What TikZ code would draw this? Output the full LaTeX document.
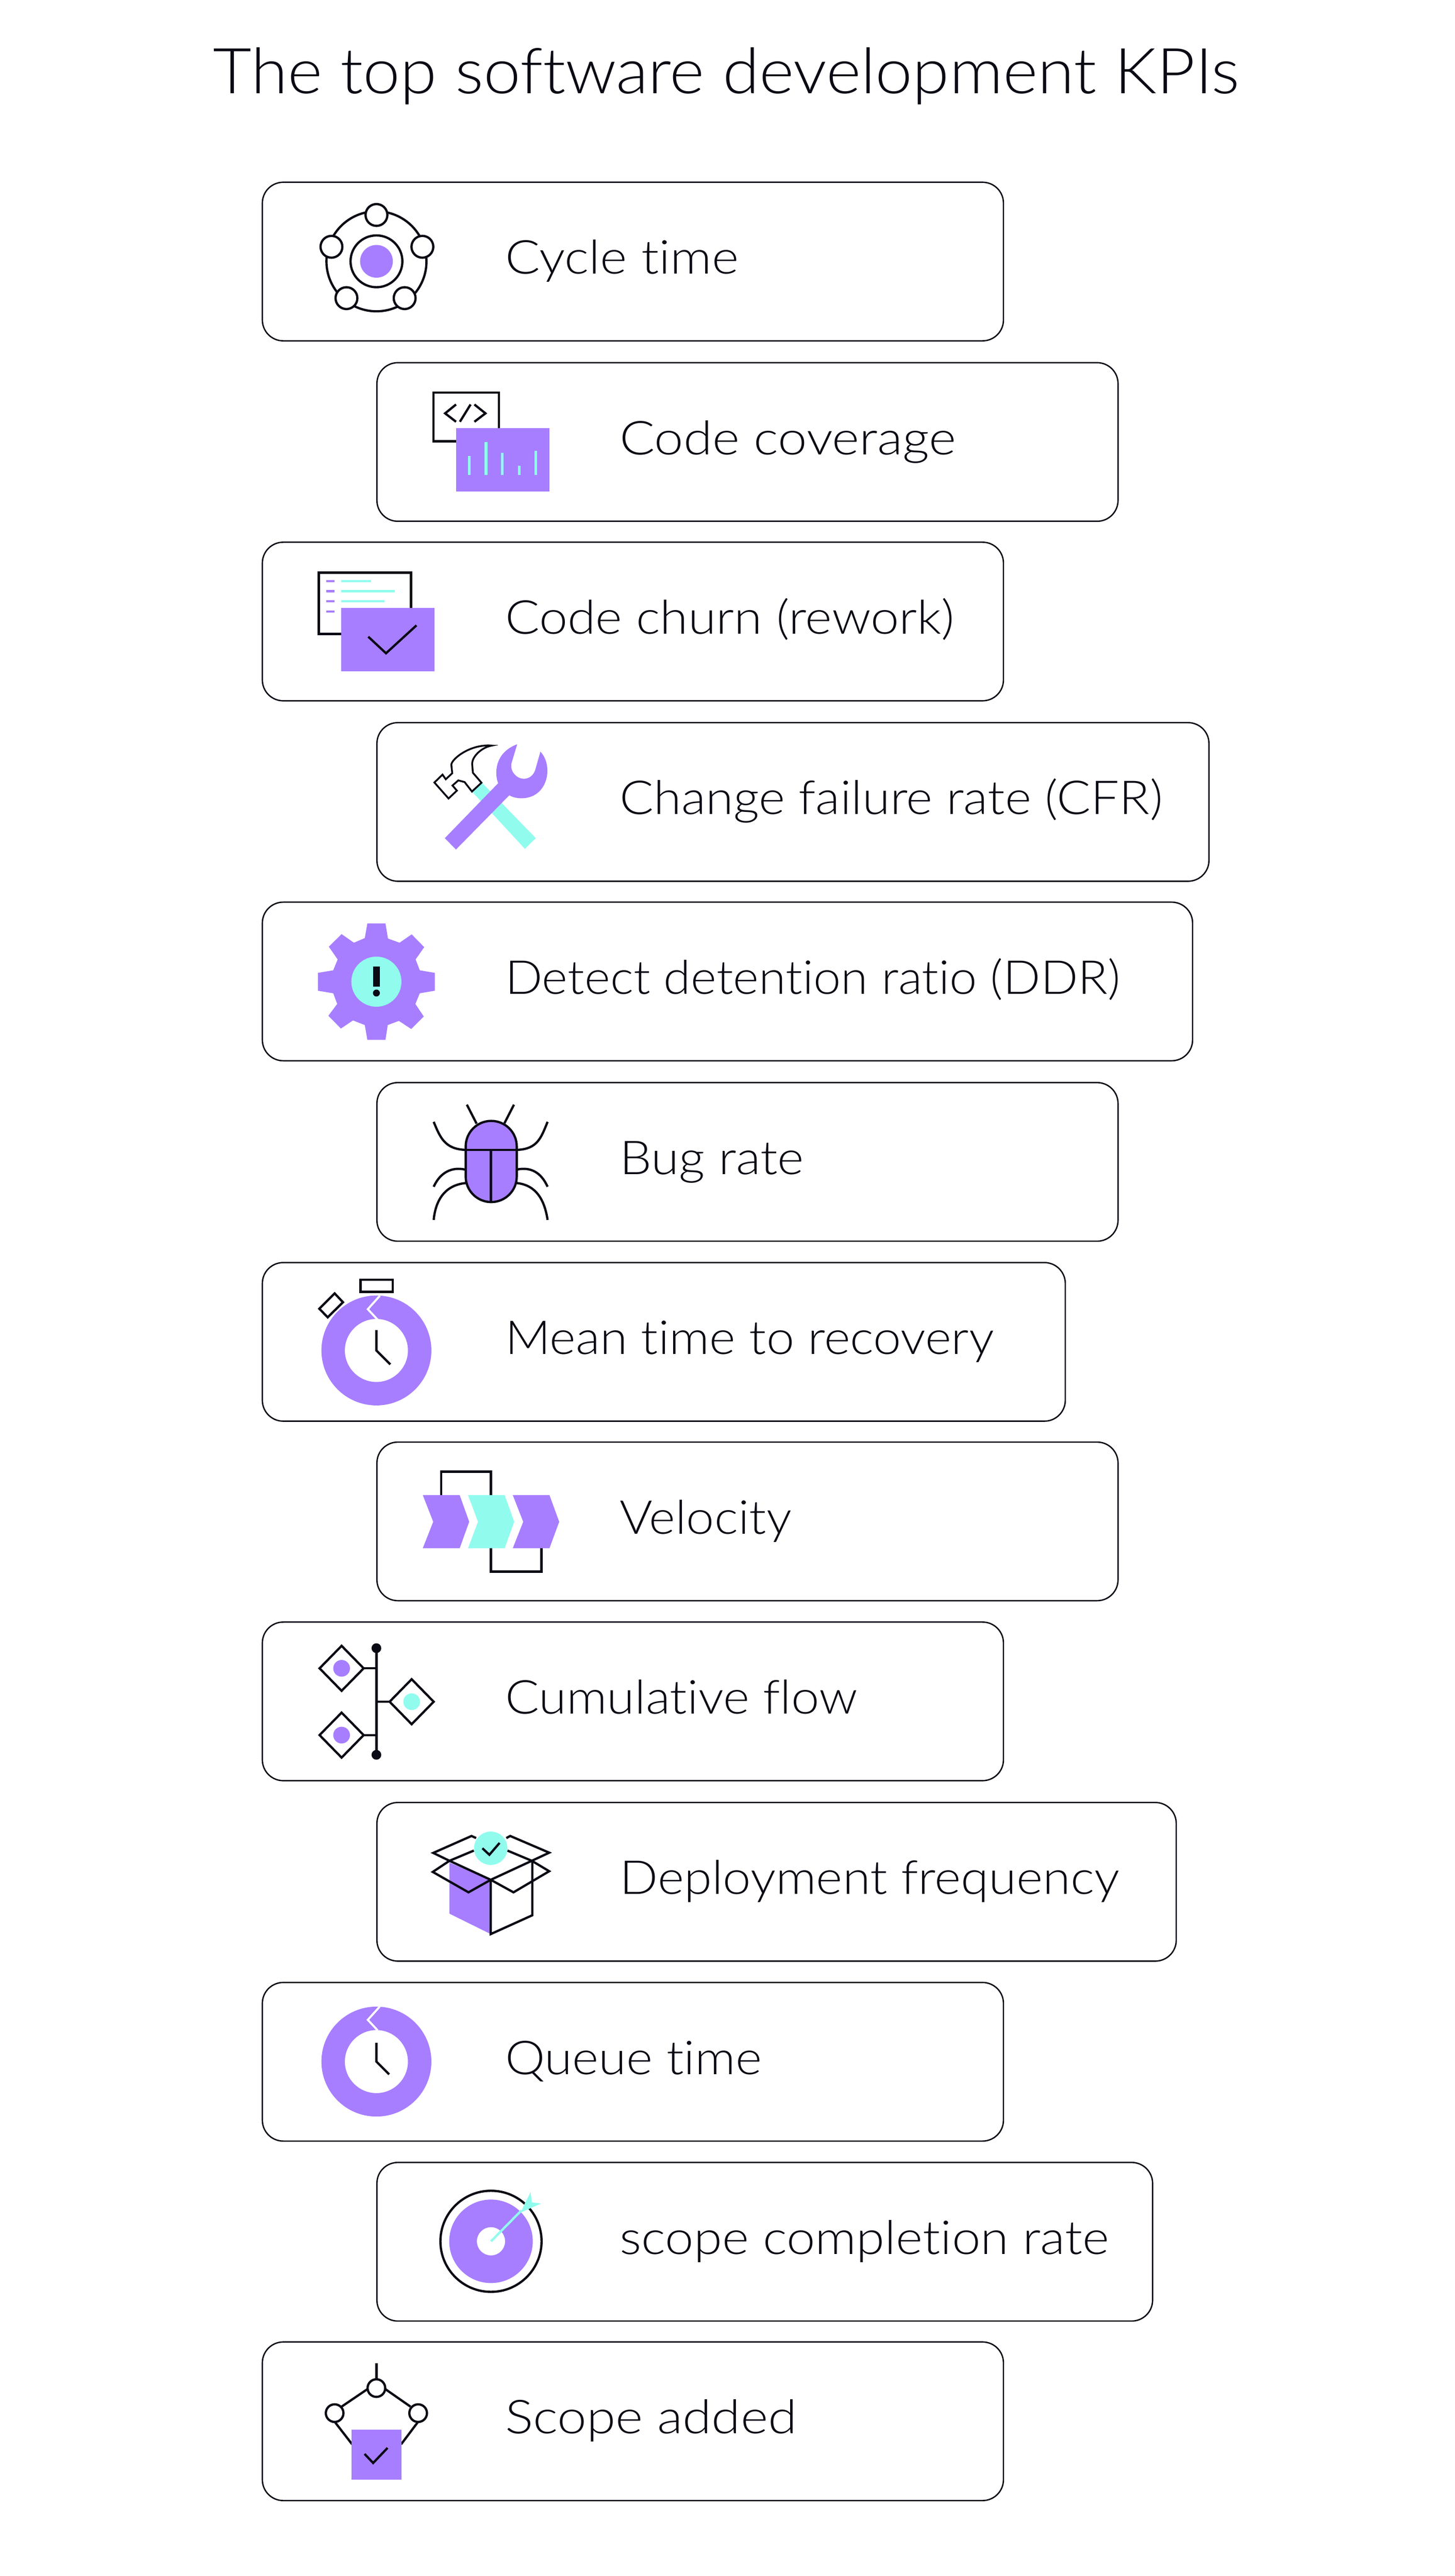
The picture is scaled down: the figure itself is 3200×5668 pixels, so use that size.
\documentclass[tikz,border=0pt]{standalone}
\usepackage{fontspec}
\usepackage{graphicx}
\newfontfamily\kfont{Lato}[UprightFont=* Light,Ligatures=NoCommon]
\definecolor{kpurple}{HTML}{A77EFF}
\definecolor{kcyan}{HTML}{91FCEE}
\definecolor{kink}{HTML}{0A0A14}
\newsavebox\kpibox
\newcommand\fittext[2]{\sbox\kpibox{#2}\pgfmathsetmacro\kpir{#1*0.284527/\the\wd\kpibox}\scalebox{\kpir}[1]{\usebox\kpibox}}
\tikzset{
  kpicard/.style={draw=kink,line width=0.3mm,rounded corners=4.6mm,fill=white,anchor=north west,inner sep=0,outer sep=0,minimum height=34.9mm},
  kpitext/.style={anchor=base west,inner sep=0,outer sep=0,text=kink},
  ic/.style={draw=kink,line width=0.5mm,line join=miter},
  pfill/.style={fill=kpurple,draw=none},
  cfill/.style={fill=kcyan,draw=none},
  notch/.style={draw=white,line width=0.45mm,line join=miter},
}
% name, left, top, right, text origin, text width, label
\newcommand\kpi[7]{%
  \node[kpicard,minimum width={(#4-#2)*0.1mm}] (box#1) at (#2,#3) {};
  \node[kpitext] (txt#1) at (#5,#3+202) {\fontsize{29.3pt}{34pt}\kfont\fittext{#6}{#7}};
}
\begin{document}
\begin{tikzpicture}[x=0.1mm,y=-0.1mm]
\useasboundingbox[fill=white] (0,0) rectangle (3200,5668);
\node[kpitext] (title) at (469,206) {\fontsize{39.6pt}{46pt}\kfont\fittext{2257}{The top software development KPIs}};
\kpi{a}{577}{401}{2207}{1111}{514}{Cycle time}
\kpi{b}{829}{798}{2459}{1363}{740}{Code coverage}
\kpi{c}{577}{1193}{2207}{1111}{988}{Code churn (rework)}
\kpi{d}{829}{1590}{2659}{1363}{1194}{Change failure rate (CFR)}
\kpi{e}{577}{1985}{2623}{1111}{1353}{Detect detention ratio (DDR)}
\kpi{f}{829}{2382}{2459}{1363}{405}{Bug rate}
\kpi{g}{577}{2778}{2343}{1111}{1075}{Mean time to recovery}
\kpi{h}{829}{3173}{2459}{1363}{378}{Velocity}
\kpi{i}{577}{3569}{2207}{1111}{775}{Cumulative flow}
\kpi{j}{829}{3966}{2587}{1363}{1099}{Deployment frequency}
\kpi{k}{577}{4362}{2207}{1111}{565}{Queue time}
\kpi{l}{829}{4758}{2535}{1363}{1076}{scope completion rate}
\kpi{m}{577}{5153}{2207}{1111}{642}{Scope added}

% Cycle time
\draw[ic] (828,575) circle (110);
\fill[kpurple] (828,575) circle (36);
\draw[ic] (828,575) circle (57);
\foreach \p in {(828,473),(729,543),(929,543),(762,656),(890,656)}
  \draw[ic,fill=white] \p circle (24);

% Code coverage
\draw[ic] (953.5,863.6) rectangle (1097.6,970.7);
\draw[ic] (1003,890)--(979,909.5)--(1003,928);
\draw[ic] (1011.5,928)--(1035,890);
\draw[ic] (1043.4,890)--(1067.7,909.5)--(1043.4,928);
\fill[kpurple] (1003,942) rectangle (1208.6,1081.6);
\foreach \x/\y in {1032/1003.6,1069/973,1105/996,1142/1025,1178.6/992}
  \draw[kcyan,line width=0.6mm] (\x,1045)--(\x,\y);

% Code churn
\draw[ic] (701,1260) rectangle (904,1395);
\foreach \y in {1279,1301,1323,1345.6} \draw[kpurple,line width=0.5mm] (718,\y)--(736,\y);
\foreach \y/\x in {1279/816,1301/868,1323/846} \draw[kcyan,line width=0.5mm] (750.7,\y)--(\x,\y);
\fill[kpurple] (750.7,1338) rectangle (956,1477);
\draw[ic] (810,1401)--(849,1437.4)--(916,1376);

% Change failure rate
\begin{scope}[shift={(560,1560)},scale=0.5102]
\fill[kcyan] (980,318)--(1212,557)--(1165,603)--(937,356)--cycle;
\fill[kpurple] (820,557)--(1050,320) .. controls (1035,285) and (1030,190) .. (1132,152)
  --(1107,235) .. controls (1100,270) and (1130,301) .. (1160,301)
  .. controls (1185,301) and (1205,285) .. (1212,255)
  --(1232,184) .. controls (1290,245) and (1265,385) .. (1150,385)
  .. controls (1130,385) and (1110,380) .. (1098,372)--(868,606)--cycle;
\draw[draw=kink,line width=0.4mm,line join=miter,fill=white] (775,317)--(810,283)--(824,303)--(852,277)--(848,240)
  .. controls (850,215) and (930,150) .. (1022,158)
  .. controls (980,165) and (935,205) .. (938,240)
  --(941,275)--(978,318)--(937,356)--(905,315)--(878,308)--(853,330)--(872,352)--(836,386)--cycle;
\end{scope}

% Detect detention ratio
\begin{scope}[shift={(560,1560)},scale=0.5102]
\fill[kpurple] (486,925)--(564,925)--(575,990)--(625,1008)--(677,972)--(731,1027)--(694,1080)--(712,1127)--(777,1138)--(777,1215)--(712,1226)--(693,1272)--(729,1326)--(675,1380)--(622,1345)--(574,1363)--(564,1427)--(486,1427)--(475,1363)--(424,1343)--(372,1378)--(318,1323)--(356,1272)--(339,1226)--(273,1215)--(273,1138)--(339,1127)--(358,1080)--(320,1025)--(375,971)--(428,1008)--(475,988)--cycle;
\fill[kcyan] (525,1176) circle (108);
\fill[kink] (510,1110) rectangle (541,1197);
\fill[kink] (525,1225) circle (15);
\end{scope}

% Bug rate
\begin{scope}[shift={(560,2350)},scale=0.5102]
\draw[ic,fill=kpurple] (910,338) arc[start angle=180,end angle=360,radius=110] -- (1130,468) arc[start angle=0,end angle=180,radius=110] -- cycle;
\draw[ic] (910,353)--(1130,353);
\draw[ic] (1019,353)--(1019,575);
\draw[ic] (772,232) .. controls (800,300) and (820,350) .. (910,353);
\draw[ic] (1263,232) .. controls (1235,300) and (1220,350) .. (1130,353);
\draw[ic] (772,512) .. controls (800,450) and (850,425) .. (908,438);
\draw[ic] (1263,512) .. controls (1235,450) and (1190,425) .. (1130,438);
\draw[ic] (772,655) .. controls (780,570) and (820,505) .. (910,496);
\draw[ic] (1263,655) .. controls (1250,570) and (1215,505) .. (1130,496);
\draw[ic] (915,158)--(957,240);
\draw[ic] (1118,158)--(1077,238);

% Mean time to recovery
\draw[ic] (457,913) rectangle (595,965);
\draw[ic] (345,972)--(381,1010)--(315,1075)--(279,1038)--cycle;
\fill[kpurple,even odd rule] (525,1218) circle (237) (525,1218) circle (136);
\draw[notch] (540,982)--(488,1040)--(530,1085);
\draw[ic] (525,1130)--(525,1218)--(585,1278);
\end{scope}

% Velocity and Cumulative flow
\begin{scope}[shift={(560,3130)},scale=0.5102]
\draw[ic] (804,313)--(804,212)--(1019,212)--(1019,313);
\draw[ic] (1019,542)--(1019,643)--(1236,643)--(1236,542);
\fill[kpurple] (725,313)--(884,313)--(925,428)--(884,542)--(725,542)--(770,428)--cycle;
\fill[kcyan] (920,313)--(1078,313)--(1119,428)--(1078,542)--(920,542)--(963,428)--cycle;
\fill[kpurple] (1113,313)--(1271,313)--(1313,428)--(1271,542)--(1113,542)--(1158,428)--cycle;

\draw[ic] (525,973)--(525,1433);
\fill[kink] (525,973) circle (21) (525,1433) circle (21);
\draw[ic] (468,1060)--(525,1060);
\draw[ic] (468,1348)--(525,1348);
\draw[ic] (525,1204)--(583,1204);
\foreach \x/\y/\c in {375/1060/kpurple,375/1348/kpurple,677/1204/kcyan}{
  \draw[ic] (\x-95,\y)--(\x,\y-97)--(\x+95,\y)--(\x,\y+97)--cycle;
  \fill[\c] (\x,\y) circle (36);
}
\end{scope}

% Deployment frequency and Queue time
\begin{scope}[shift={(560,3930)},scale=0.5102]
\fill[kpurple] (840,330)--(1018,404)--(1018,638)--(840,550)--cycle;
\draw[ic] (1018,404)--(1018,638)--(1197,557)--(1197,322);
\draw[ic] (840,322)--(1018,404)--(1195,322);
\draw[ic] (955,224)--(935,215)--(770,288)--(840,322)--(945,278);
\draw[ic] (1085,224)--(1102,215)--(1270,287)--(1195,322)--(1090,278);
\draw[ic] (840,322)--(768,370)--(922,458)--(1018,404);
\draw[ic] (1018,404)--(1116,458)--(1270,367)--(1195,322);
\fill[kcyan] (1018,268) circle (72);
\draw[ic] (982,268)--(1012,296)--(1056,245);

\fill[kpurple,even odd rule] (525,1188) circle (237) (525,1188) circle (136);
\draw[notch] (540,950)--(488,1008)--(530,1053);
\draw[ic] (525,1107)--(525,1188)--(580,1243);
\end{scope}

% Scope completion rate and Scope added
\begin{scope}[shift={(560,4730)},scale=0.5102]
\draw[ic] (1019,395) circle (218);
\fill[kpurple,even odd rule] (1019,395) circle (180) (1019,395) circle (61);
\draw[kcyan,line width=0.5mm] (1019,395)--(1150,262);
\fill[kcyan] (1190,183)--(1195,227)--(1235,232)--(1183,255)--(1148,270)--(1163,235)--cycle;

\draw[ic] (525,920)--(525,990);
\draw[ic] (490,1030)--(375,1108);
\draw[ic] (560,1030)--(672,1108);
\draw[ic] (345,1173)--(420,1270);
\draw[ic] (705,1173)--(632,1270);
\foreach \x/\y in {525/1028,345/1136,705/1136} \draw[ic,fill=white] (\x,\y) circle (38);
\fill[kpurple] (417,1208) rectangle (633,1423);
\draw[ic] (474,1312)--(511,1351)--(573,1286);
\end{scope}
\end{tikzpicture}
\end{document}
